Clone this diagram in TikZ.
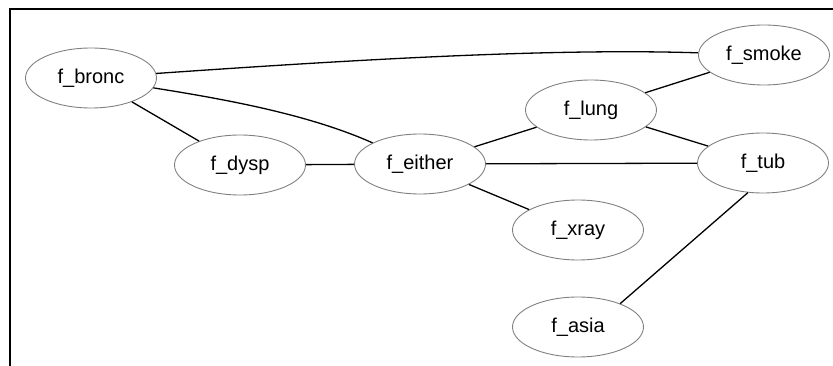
\documentclass[tikz,border=0pt]{standalone}
\usepackage{fontspec}
\setmainfont{Liberation Sans}
\usetikzlibrary{shapes.geometric}
\begin{document}
\begin{tikzpicture}[x=1pt,y=-1pt,
  var/.style={ellipse,draw=black!50,line width=0.9pt,minimum width=131pt,minimum height=60pt,inner sep=0pt,font=\fontsize{20}{24}\selectfont},
  link/.style={draw=black,line width=1.3pt},
  frameline/.style={draw=black,line width=1.5pt}]
\useasboundingbox (0,0) rectangle (833,366);
\coordinate (fa) at (10,366);
\coordinate (fb) at (10,9);
\coordinate (fc) at (833,9);
\draw[frameline] (fa) -- (fb) -- (fc);
\node[var] (bronc) at (91,78) {f\_bronc};
\node[var] (smoke) at (764,55) {f\_smoke};
\node[var] (dysp) at (240,165) {f\_dysp};
\node[var] (either) at (420,164) {f\_either};
\node[var] (lung) at (591,110) {f\_lung};
\node[var] (tub) at (763,163) {f\_tub};
\node[var] (xray) at (578,230) {f\_xray};
\node[var] (asia) at (578,327) {f\_asia};
\draw[link] (bronc) .. controls (350,60) and (550,48) .. (smoke);
\draw[link] (bronc) .. controls (230,100) and (310,115) .. (either);
\draw[link] (bronc) -- (dysp);
\draw[link] (dysp) -- (either);
\draw[link] (either) -- (lung);
\draw[link] (either) -- (tub);
\draw[link] (either) -- (xray);
\draw[link] (lung) -- (smoke);
\draw[link] (lung) -- (tub);
\draw[link] (tub.243) -- (asia.29);
\end{tikzpicture}
\end{document}
